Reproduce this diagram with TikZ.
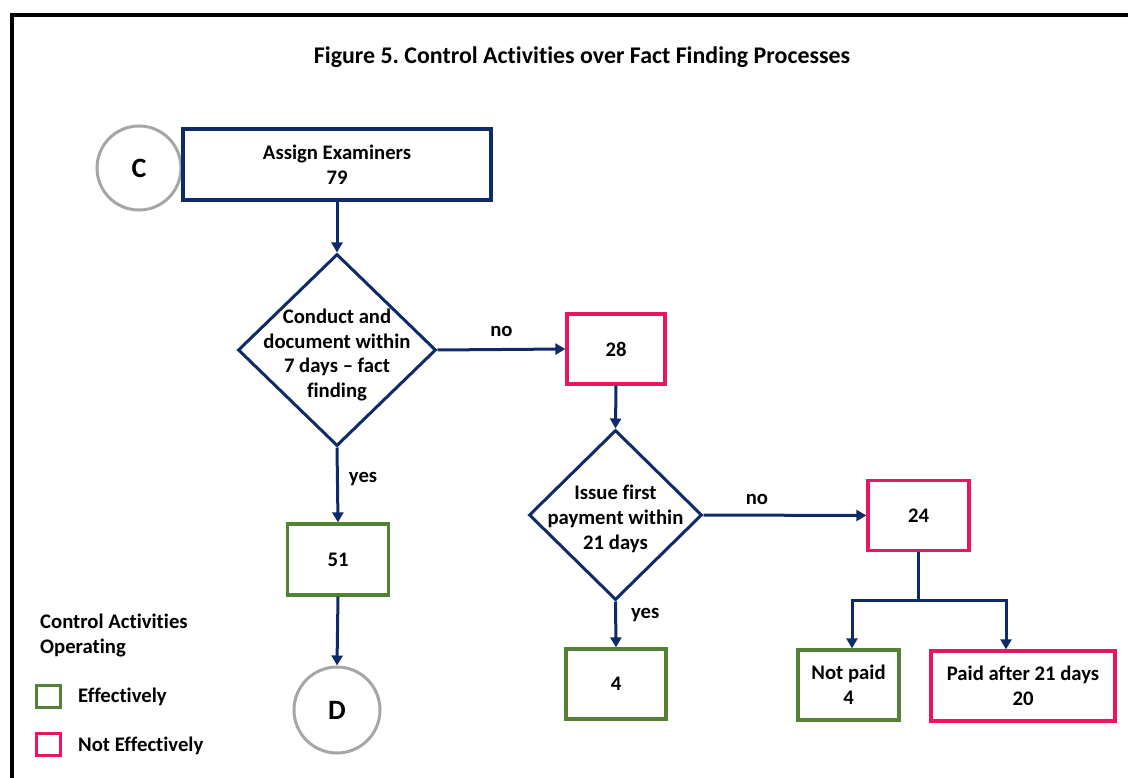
\documentclass[tikz,border=0pt]{standalone}
\usepackage{fontspec}
\setmainfont{Carlito}[Ligatures=NoCommon]
\frenchspacing
\usetikzlibrary{shapes.geometric,arrows.meta}
\definecolor{navy}{HTML}{0F2A68}
\definecolor{okgreen}{HTML}{548235}
\definecolor{badpink}{HTML}{E8175D}
\definecolor{ringgray}{HTML}{A6A6A6}
\begin{document}
\begin{tikzpicture}[x=1pt,y=-1pt,
  txt/.style={font=\fontsize{20.7}{24.8}\selectfont\bfseries, text=black},
  box/.style={txt, draw, line width=3.3pt, inner sep=0pt, align=center},
  navybox/.style={box, draw=navy},
  greenbox/.style={box, draw=okgreen},
  pinkbox/.style={box, draw=badpink},
  decision/.style={diamond, draw=navy, line width=3pt, inner sep=0pt},
  connector/.style={circle, draw=ringgray, line width=3pt, minimum size=84pt, inner sep=0pt, text=black, font=\fontsize{28}{28}\selectfont\bfseries},
  arrow/.style={draw=navy, line width=3pt, -{Triangle[width=11pt,length=10pt]}},
  line/.style={draw=navy, line width=3pt},
  lbl/.style={txt, inner sep=0pt},
  legsq/.style={draw, line width=3pt, minimum width=24pt, minimum height=22pt, inner sep=0pt}
]
\useasboundingbox (0,0) rectangle (1128,778);
% frame
\draw[line width=4pt] (11.5,778) |- (1128,15);

% title
\node[lbl, font=\fontsize{23.9}{26}\selectfont\bfseries] (title) at (582,57) {Figure 5. Control Activities over Fact Finding Processes};

% nodes
\node[connector] (C) at (139,168) {C};
\node[navybox, minimum width=308pt, minimum height=71pt] (assign) at (337,164.5) {Assign Examiners\\79};
\node[decision, minimum width=198pt, minimum height=192pt,
  label={[txt, align=center, yshift=-5pt]center:Conduct and\\document within\\7 days -- fact\\finding}] (d1) at (337,350) {};
\node[pinkbox, minimum width=98pt, minimum height=70pt] (b28) at (616,349) {28};
\node[decision, minimum width=173pt, minimum height=170pt,
  label={[txt, align=center, yshift=-4pt]center:Issue first\\payment within\\21 days}] (d2) at (615.5,515) {};
\node[pinkbox, minimum width=101pt, minimum height=70pt] (b24) at (918.5,515.5) {24};
\node[greenbox, minimum width=101pt, minimum height=70pt] (notpaid) at (848.5,685) {Not paid\\4};
\node[pinkbox, minimum width=184pt, minimum height=70pt] (paid) at (1023,686) {Paid after 21 days\\20};
\node[greenbox, minimum width=101pt, minimum height=71pt] (b51) at (338,559.5) {51};
\node[connector, minimum size=86pt] (D) at (337,710) {D};
\node[greenbox, minimum width=100pt, minimum height=70pt] (b4) at (616,684) {4};

% connectors
\draw[arrow] (assign.south) -- (d1.north);
\draw[arrow] (d1.east) -- node[lbl, above=11pt] (no1) {no} (b28.west);
\draw[arrow] (b28.south) -- (d2.north);
\draw[arrow] (d2.east) -- node[lbl, above=9pt, xshift=-28pt] (no2) {no} (b24.west);
\draw[arrow] (d1.south) -- node[lbl, right=10pt, pos=0.42] (yes1) {yes} (b51.north);
\draw[arrow] (b51.south) -- (D.north);
\draw[arrow] (d2.south) -- node[lbl, right=14pt, pos=0.3] (yes2) {yes} (b4.north);
\draw[line] (b24.south) -- ++(0,48) coordinate (j);
\draw[arrow] (j) -| ([xshift=3.5pt]notpaid.north);
\draw[arrow] (j) -| ([xshift=-17pt]paid.north);

% legend
\node[lbl, anchor=west, align=left] (legtitle) at (40,635.5) {Control Activities\\Operating};
\node[legsq, draw=okgreen] (sqg) at (48,696) {};
\node[lbl, anchor=west] (leg1) at (78,697) {Effectively};
\node[legsq, draw=badpink] (sqp) at (48,744) {};
\node[lbl, anchor=west] (leg2) at (78,746) {Not Effectively};
\end{tikzpicture}
\end{document}
